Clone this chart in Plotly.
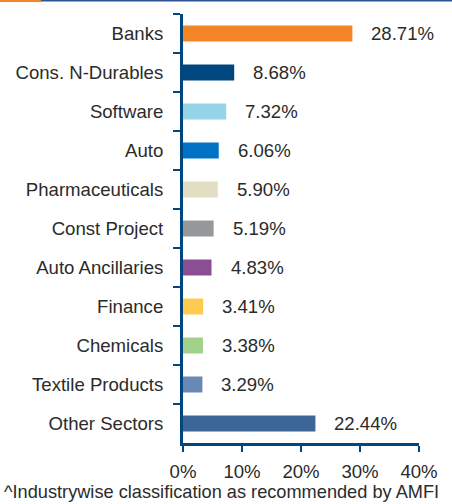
import plotly.graph_objects as go

categories = ["Banks", "Cons. N-Durables", "Software", "Auto", "Pharmaceuticals",
              "Const Project", "Auto Ancillaries", "Finance", "Chemicals",
              "Textile Products", "Other Sectors"]
values = [28.71, 8.68, 7.32, 6.06, 5.90, 5.19, 4.83, 3.41, 3.38, 3.29, 22.44]
colors = ["#F58426", "#00467F", "#94D6E8", "#0072C6", "#E2DEC4", "#97989C",
          "#8B4E93", "#FECB4E", "#A0D28A", "#6A88B4", "#3D6698"]
xticks = [0, 10, 20, 30, 40]
xticklabels = ["0%", "10%", "20%", "30%", "40%"]
footnote = "^Industrywise classification as recommended by AMFI"

W, H = 452, 504
L, R, T, B = 183, 33, 14, 61
pw, ph = W - L - R, H - T - B
AX = "#004680"
TXT = "#2b2b2b"
FONT = "Liberation Sans, Arial, sans-serif"
FS = 18.6

fig = go.Figure(go.Bar(
    x=values, y=categories, orientation="h",
    marker=dict(color=colors, line=dict(width=0)),
    hoverinfo="skip",
))

for c, v in zip(categories, values):
    fig.add_annotation(x=v, y=c, xref="x", yref="y", text=f"{v:.2f}%",
                       showarrow=False, xanchor="left", yanchor="middle",
                       xshift=17, font=dict(size=FS, color=TXT, family=FONT))

fig.add_annotation(x=(2 - L) / pw, y=(ph - (492 - T)) / ph, xref="paper", yref="paper",
                   text=footnote, showarrow=False, xanchor="left", yanchor="middle",
                   font=dict(size=18.2, color=TXT, family=FONT))

# top decorative rule
fig.add_shape(type="rect", xref="paper", yref="paper",
              x0=(0 - L) / pw, x1=(41 - L) / pw, y0=(ph + T - 2) / ph, y1=(ph + T) / ph,
              fillcolor="#F58426", line=dict(width=0), layer="above")
fig.add_shape(type="rect", xref="paper", yref="paper",
              x0=(41 - L) / pw, x1=(W - L) / pw, y0=(ph + T - 1.5) / ph, y1=(ph + T) / ph,
              fillcolor="#2F5597", line=dict(width=0), layer="above")

fig.update_layout(
    width=W, height=H,
    margin=dict(l=L, r=R, t=T, b=B, pad=0),
    paper_bgcolor="white", plot_bgcolor="white",
    bargap=0.59, showlegend=False,
    font=dict(family=FONT, size=FS, color=TXT),
    xaxis=dict(range=[0, 40], tickvals=xticks, ticktext=xticklabels,
               showgrid=False, zeroline=False, showline=True, linecolor=AX, linewidth=3,
               ticks="outside", ticklen=6, tickwidth=2, tickcolor=AX,
               tickfont=dict(size=FS, color=TXT, family=FONT), ticklabelstandoff=4,
               fixedrange=True),
    yaxis=dict(categoryorder="array", categoryarray=categories, autorange="reversed",
               showgrid=False, zeroline=False, showline=True, linecolor=AX, linewidth=3,
               ticks="outside", ticklen=7, tickwidth=2, tickcolor=AX, tickson="boundaries",
               tickfont=dict(size=FS, color=TXT, family=FONT), ticklabelstandoff=13,
               fixedrange=True),
)

fig.write_html("out.html", config={"displayModeBar": False},
               post_script="document.body.style.margin='0';document.body.style.overflow='hidden';")
